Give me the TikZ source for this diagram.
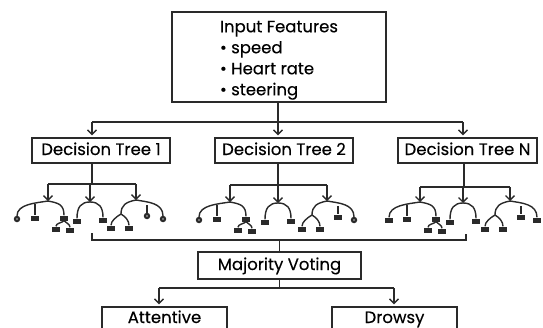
\documentclass[tikz,border=0pt]{standalone}
\usepackage{fontspec}
\setmainfont{Poppins}[FakeBold=0.3]
\usetikzlibrary{arrows.meta}

\definecolor{ink}{HTML}{2A2A2A}

\tikzset{
	box/.style = {draw=ink, line width=1.4pt, inner sep=0pt, minimum height=25pt,
		font=\fontsize{16.5}{18}\selectfont},
	tag/.style = {box, text height=11.5pt, text depth=2.5pt},
	edge/.style = {draw=ink, line width=1.4pt},
	arrow/.style = {edge, -{Straight Barb[length=4.5pt,width=9pt]}},
	feed/.style = {arrow, shorten >=2pt},
	twig/.style = {draw=ink, line width=1.4pt},
	leafbox/.style = {fill=ink, inner sep=0pt, minimum width=8pt, minimum height=5pt},
	leafdot/.style = {circle, draw=ink, line width=2.3pt, fill=white, inner sep=0pt, minimum size=4pt},
	% small trees under each decision tree box
	pics/subA/.style = {code = {
		\coordinate (-top) at (0,0);
		\node[#1]      (-l1) at (-31,18) {};
		\node[leafbox] (-l2) at (-13,17) {};
		\node[leafbox] (-l3) at ( 16,17) {};
		\node[leafbox] (-l4) at (  8,28) {};
		\node[leafbox] (-l5) at ( 22,29) {};
		\draw[twig] (-top) .. controls (-12,2) and (-31,3) .. (-l1.north);
		\draw[twig] (-13,3) -- (-l2.north);
		\draw[twig] (-top) .. controls (10,2) and (16,3) .. (-l3.north);
		\draw[twig] (-l3.south) .. controls (14,22) and (8,22) .. (-l4.north);
		\draw[twig] (-l3.south) .. controls (18,22) and (22,23) .. (-l5.north);
	}},
	pics/subB/.style = {code = {
		\coordinate (-top) at (0,0);
		\node[leafbox] (-l1) at (-13,19) {};
		\node[leafbox] (-l2) at ( 13,18) {};
		\draw[twig] (-top) .. controls (-9,0) and (-13,5) .. (-l1.north);
		\draw[twig] (-top) .. controls (9,0) and (13,5) .. (-l2.north);
	}},
	pics/subC/.style 2 args = {code = {
		\coordinate (-top) at (0,0);
		\coordinate (-fork) at (-15,14);
		\node[leafbox] (-l1) at (-25,28) {};
		\node[leafbox] (-l2) at ( -7,28) {};
		\node[#1]      (-l3) at ( 11,16) {};
		\node[#2]      (-l4) at ( 27,19) {};
		\draw[twig] (-top) .. controls (-10,2) and (-15,5) .. (-fork);
		\draw[twig] (-fork) .. controls (-20,17) and (-25,21) .. (-l1.north);
		\draw[twig] (-fork) .. controls (-10,17) and (-7,21) .. (-l2.north);
		\draw[twig] (-top) .. controls (12,2) and (27,3) .. (-l4.north);
		\draw[twig] (11,5) -- (-l3.north);
	}},
}

\begin{document}
\begin{tikzpicture}[x=1pt, y=-1pt]
	\useasboundingbox (0,0) rectangle (543,327);
	\clip (0,0) rectangle (543,327);
	
	\node[box, minimum width=214pt, minimum height=90pt, align=left,
	      font=\fontsize{16.5}{21}\selectfont] (input) at (279,57)
	      {\rule{0pt}{18pt}Input Features\\ \textbullet\ speed\\ \textbullet\ Heart rate\\ \textbullet\ steering};
	
	\node[tag, minimum width=138pt] (dt1) at (101,150.5) {Decision Tree 1};
	\node[tag, minimum width=138pt] (dt2) at (284,150.5) {Decision Tree 2};
	\node[tag, minimum width=139pt] (dtn) at (467.5,150.5) {Decision Tree N};
	
	\node[tag, minimum width=163pt, minimum height=27pt] (vote) at (279.5,265.5) {Majority Voting};
	
	\node[tag, minimum width=125pt, minimum height=23pt] (att)    at (164.5,318.5) {Attentive};
	\node[tag, minimum width=125pt, minimum height=23pt] (drowsy) at (394.5,318.5) {Drowsy};
	
	% features to the trees
	\coordinate (fan l) at (92,122);
	\coordinate (fan r) at (463,122);
	\draw[edge] (fan l) -- (fan r);
	\draw[feed] (input.south -| 278,0) -- (278,0 |- dt2.north);
	\draw[feed] (fan l) -- (fan l |- dt1.north);
	\draw[feed] (fan r) -- (fan r |- dtn.north);
	
	% tree 1
	\draw[edge] (92,0 |- dt1.south) -- (92,184);
	\draw[edge] (48,184) -- (136,184);
	\draw[arrow] (48,184) -- (48,201);
	\draw[arrow] (90,184) -- (90,202);
	\draw[arrow] (136,184) -- (136,200);
	\pic (t1a) at (48,201) {subA=leafdot};
	\pic (t1b) at (90,202) {subB};
	\pic (t1c) at (136,200) {subC={leafdot}{leafdot}};
	
	% tree 2
	\draw[edge] (278,0 |- dt2.south) -- (278,185);
	\draw[edge] (230,185) -- (327,185);
	\draw[arrow] (230,185) -- (230,202);
	\draw[arrow] (278,185) -- (278,203);
	\draw[arrow] (327,185) -- (327,201);
	\pic (t2a) at (230,202) {subA=leafdot};
	\pic (t2b) at (278,203) {subB};
	\pic (t2c) at (327,201) {subC={leafbox}{leafdot}};
	
	% tree N
	\draw[edge] (464,0 |- dtn.south) -- (464,187);
	\draw[edge] (420,187) -- (510,187);
	\draw[arrow] (420,187) -- (420,202);
	\draw[arrow] (463,187) -- (463,203);
	\draw[arrow] (510,187) -- (510,201);
	\pic (tna) at (420,202) {subA=leafbox};
	\pic (tnb) at (463,203) {subB};
	\pic (tnc) at (510,201) {subC={leafbox}{leafbox}};
	
	% trees to the vote
	\coordinate (join l) at (92,240);
	\coordinate (join r) at (466,240);
	\draw[edge] (92,233) -- (join l) -- (join r) -- (466,234);
	\draw[edge] (vote.north |- join l) -- (vote.north);
	
	% vote to the classes
	\coordinate (out l) at (159,288);
	\coordinate (out r) at (394,288);
	\draw[edge] (vote.south) -- (vote.south |- out l);
	\draw[edge] (out l) -- (out r);
	\draw[feed] (out l) -- (out l |- att.north);
	\draw[feed] (out r) -- (out r |- drowsy.north);
\end{tikzpicture}
\end{document}
